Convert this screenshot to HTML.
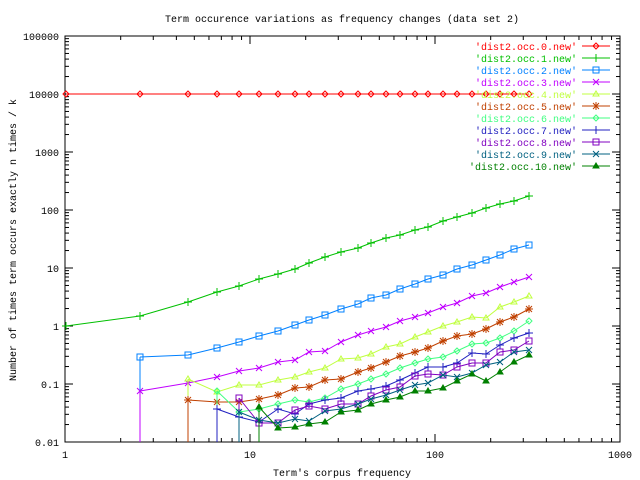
<!DOCTYPE html>
<html><head><meta charset="utf-8"><style>
html,body{margin:0;padding:0;background:#fff;}
svg{display:block;font-family:"Liberation Mono",monospace;font-size:10px;}
</style></head><body>
<svg id="s" width="640" height="480" xmlns="http://www.w3.org/2000/svg"></svg>
<script>
const S=document.getElementById('s');let h='';
const X0=65,X1=620,Y0=442,Y1=36;
const xp=v=>X0+Math.log10(v)*185,yp=v=>Y0-(Math.log10(v)+2)*58;
h+=`<rect x="${X0}" y="${Y1}" width="${X1-X0}" height="${Y0-Y1}" fill="none" stroke="#000"/>`;
for(let e=-2;e<=5;e++){const y=yp(Math.pow(10,e));
 h+=`<line x1="${X0}" y1="${y}" x2="${X0+8}" y2="${y}" stroke="#000"/><line x1="${X1}" y1="${y}" x2="${X1-8}" y2="${y}" stroke="#000"/>`;
 const lab=e<0?(e==-2?'0.01':'0.1'):String(Math.pow(10,e));
 h+=`<text x="59" y="${y+4}" text-anchor="end">${lab}</text>`;
 if(e<5)for(let m=2;m<10;m++){const yy=yp(m*Math.pow(10,e));h+=`<line x1="${X0}" y1="${yy}" x2="${X0+4}" y2="${yy}" stroke="#000"/><line x1="${X1}" y1="${yy}" x2="${X1-4}" y2="${yy}" stroke="#000"/>`;}
}
for(let e=0;e<=3;e++){const x=xp(Math.pow(10,e));
 h+=`<line x1="${x}" y1="${Y0}" x2="${x}" y2="${Y0-8}" stroke="#000"/><line x1="${x}" y1="${Y1}" x2="${x}" y2="${Y1+8}" stroke="#000"/>`;
 h+=`<text x="${x}" y="458" text-anchor="middle">${Math.pow(10,e)}</text>`;
 if(e<3)for(let m=2;m<10;m++){const xx=xp(m*Math.pow(10,e));h+=`<line x1="${xx}" y1="${Y0}" x2="${xx}" y2="${Y0-4}" stroke="#000"/><line x1="${xx}" y1="${Y1}" x2="${xx}" y2="${Y1+4}" stroke="#000"/>`;}
}
h+=`<text x="342" y="22" text-anchor="middle">Term occurence variations as frequency changes (data set 2)</text>`;
h+=`<text x="342" y="476" text-anchor="middle">Term's corpus frequency</text>`;
h+=`<text transform="translate(16,240) rotate(-90)" text-anchor="middle">Number of times term occurs exactly n times / k</text>`;
const XS=[66,140,188,217,239,259,278,295,309,325,341,358,371,386,400,415,428,443,457,472,486,500,514,529];
const cols=['#ff0000','#00c000','#0080ff','#c000ff','#c0ff40','#c04000','#40ff80','#2020c0','#8000c0','#006080','#008000'];
const D=[
 null,
 [326,316,302,292,286,279,274,269,263,257,252,248,243,238,235,230,227,221,217,213,208,204,201,196],
 [null,357,355,348,342,336,331,325,320,315,309,304,298,295,289,284,279,275,269,265,260,255,249,245],
 [null,391,383,377,371,368,362,360,352,351,342,335,331,327,321,317,313,307,303,296,293,287,282,277],
 [null,null,379,392,385,385,380,377,372,368,359,358,354,347,344,337,332,326,322,317,318,307,302,296],
 [null,null,400,402,402,399,395,388,387,380,379,372,368,362,356,352,348,341,336,334,329,322,317,309],
 [null,null,null,391,412,409,404,400,402,398,389,384,379,374,368,363,359,357,351,344,343,338,331,321],
 [null,null,null,409,417,422,409,414,404,400,398,391,389,386,380,373,367,367,363,353,354,345,338,333],
 [null,null,null,null,398,423,423,410,406,409,404,404,396,390,387,376,374,375,367,363,363,352,350,341],
 [null,null,null,null,412,420,423,419,421,411,409,404,399,395,390,385,383,375,377,373,365,362,352,350],
 [null,null,null,null,null,407,428,427,424,422,412,410,404,400,397,391,391,388,381,374,381,372,362,355]
];
D[0]=XS.map(()=>94);
function mk(t,x,y,c){
 switch(t){
 case 0:case 6:return `<path d="M${x-3} ${y}L${x} ${y-3}L${x+3} ${y}L${x} ${y+3}Z" fill="none" stroke="${c}"/>`;
 case 1:case 7:return `<path d="M${x-4} ${y}H${x+4}M${x} ${y-4}V${y+4}" stroke="${c}"/>`;
 case 2:case 8:return `<rect x="${x-3}" y="${y-3}" width="6" height="6" fill="none" stroke="${c}"/>`;
 case 3:case 9:return `<path d="M${x-3} ${y-3}L${x+3} ${y+3}M${x-3} ${y+3}L${x+3} ${y-3}" stroke="${c}"/>`;
 case 4:return `<path d="M${x-3} ${y+2}L${x} ${y-3}L${x+3} ${y+2}Z" fill="none" stroke="${c}"/>`;
 case 5:return `<path d="M${x-4} ${y}H${x+4}M${x} ${y-4}V${y+4}M${x-3} ${y-3}L${x+3} ${y+3}M${x-3} ${y+3}L${x+3} ${y-3}" stroke="${c}"/>`;
 case 10:return `<path d="M${x-3} ${y+2}L${x} ${y-3}L${x+3} ${y+2}Z" fill="${c}" stroke="${c}"/>`;
 }
}
D.forEach((d,i)=>{const c=cols[i];let pts=[];let m='';
 d.forEach((y,j)=>{if(y!=null){pts.push(XS[j]+','+y);m+=mk(i,XS[j],y,c);}});
 const f=d.findIndex(v=>v!=null);
 if(f>0)h+=`<line x1="${XS[f]}" y1="${Y0}" x2="${XS[f]}" y2="${d[f]}" stroke="${c}"/>`;
 h+=`<polyline points="${pts.join(' ')}" fill="none" stroke="${c}"/>`+m;
 const ly=46+i*12;
 h+=`<text x="577" y="${ly+4}" text-anchor="end" fill="${c}">'dist2.occ.${i}.new'</text>`;
 h+=`<line x1="582" y1="${ly}" x2="610" y2="${ly}" stroke="${c}"/>`+mk(i,596,ly,c);
});
S.innerHTML=h;
</script>
</body></html>
